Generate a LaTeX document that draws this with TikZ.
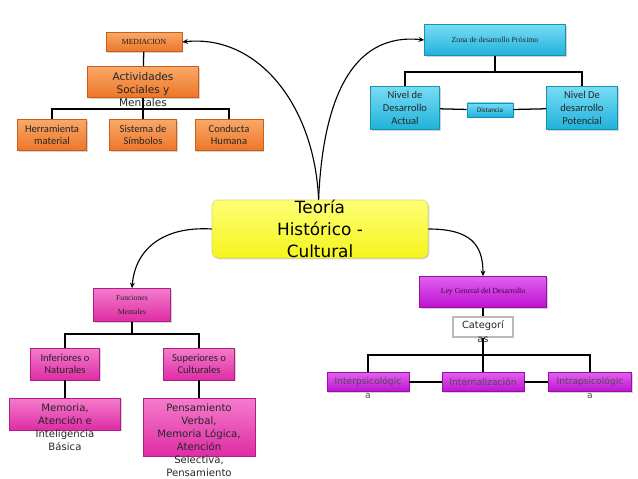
\documentclass[tikz,border=0pt]{standalone}
\usepackage{fontspec}
\setmainfont{Carlito}
\newfontfamily\dvfont{DejaVu Sans}
\newfontfamily\serfont{Liberation Serif}
\usetikzlibrary{arrows.meta,shadows}

\definecolor{naranjaA}{HTML}{F9A868}
\definecolor{naranjaB}{HTML}{EC7628}
\definecolor{naranjaC}{HTML}{C85E1A}
\definecolor{celesteA}{HTML}{78DCF4}
\definecolor{celesteB}{HTML}{1FB2DA}
\definecolor{celesteC}{HTML}{1690B4}
\definecolor{rosaA}{HTML}{F47CCC}
\definecolor{rosaB}{HTML}{DE2CA4}
\definecolor{rosaC}{HTML}{B01E82}
\definecolor{moradoA}{HTML}{E060EE}
\definecolor{moradoB}{HTML}{BE12D2}
\definecolor{moradoC}{HTML}{9A0CAA}
\definecolor{amarilloA}{HTML}{FFFF78}
\definecolor{amarilloB}{HTML}{F4F41C}
\definecolor{amarilloC}{HTML}{D8D850}

\newlength\pxu
\setlength\pxu{0.025cm}

\tikzset{
  caja/.style={rectangle, draw=#1C, line width=0.4pt, top color=#1A, bottom color=#1B,
    drop shadow={opacity=0.35, shadow xshift=0.9pt, shadow yshift=-0.9pt},
    inner sep=1pt, align=center, text=black!85},
  tam/.style 2 args={minimum width=#1*\pxu, minimum height=#2*\pxu},
  titulo/.style={font=\serfont\fontsize{5.5}{7}\selectfont},
  calib/.style={font=\fontsize{7.5}{9}\selectfont},
  sobre/.style={anchor=north, align=center, inner sep=2.5pt, yshift=-1.5pt, text=black!85},
  linea/.style={line width=0.9pt, black},
  flecha/.style={line width=0.8pt, black, -{Stealth[length=4pt,width=3.5pt]}}
}

\begin{document}
\begin{tikzpicture}[x=0.025cm, y=-0.025cm]
\useasboundingbox (0,0) rectangle (638,479);

% nodo central
\node[caja=amarillo, tam={216}{58}, rounded corners=4pt,
  label={[font=\dvfont\fontsize{12}{15.6}\selectfont, align=center]center:{Teoría\\Histórico -\\Cultural}}]
  (teoria) at (320,229) {};

% rama de la mediacion
\node[caja=naranja, tam={76}{19}, titulo, text=black!80!brown] (med) at (144,42) {MEDIACION};
\node[caja=naranja, tam={111}{31},
  label={[sobre, font=\dvfont\fontsize{7.5}{9.2}\selectfont]north:{Actividades\\Sociales y\\Mentales}}]
  (act) at (143,82) {};
\node[caja=naranja, tam={69}{31}, calib] (herr) at (52,135) {Herramienta\\material};
\node[caja=naranja, tam={67}{31}, calib] (sis) at (143,135) {Sistema de\\Símbolos};
\node[caja=naranja, tam={68}{31}, calib] (cond) at (229,135) {Conducta\\Humana};
\coordinate (barA) at (143,109);

% zona de desarrollo
\node[caja=celeste, tam={141}{31}, titulo] (zona) at (495,40) {Zona de desarrollo Próximo};
\node[caja=celeste, tam={69}{43}, calib] (nivA) at (405,108) {Nivel de\\Desarrollo\\Actual};
\node[caja=celeste, tam={46}{14}, font=\fontsize{5}{6}\selectfont] (dist) at (490,110) {Distancia};
\node[caja=celeste, tam={71}{43}, calib] (nivP) at (582,108) {Nivel De\\desarrollo\\Potencial};
\coordinate (barZ) at (495,72);

% funciones mentales
\node[caja=rosa, tam={77}{33}, font=\serfont\fontsize{5.5}{10}\selectfont] (func) at (132,305) {Funciones\\Mentales};
\node[caja=rosa, tam={69}{32}, calib] (inf) at (65,364) {Inferiores o\\Naturales};
\node[caja=rosa, tam={71}{32}, calib] (sup) at (199,364) {Superiores o\\Culturales};
\node[caja=rosa, tam={111}{32},
  label={[sobre, font=\dvfont\fontsize{7.2}{9.2}\selectfont]north:{Memoria,\\Atención e\\Inteligencia\\Básica}}]
  (mem) at (65,414) {};
\node[caja=rosa, tam={112}{58},
  label={[sobre, font=\dvfont\fontsize{7.2}{9.2}\selectfont]north:{Pensamiento\\Verbal,\\Memoria Lógica,\\Atención\\Selectiva,\\Pensamiento}}]
  (pens) at (199,427) {};
\coordinate (barF) at (132,334);

% ley general del desarrollo
\node[caja=morado, tam={127}{31}, titulo, text=moradoC!40!black] (ley) at (483,292) {Ley General del Desarrollo};
\node[draw=gray!55, line width=1.3pt, fill=white, tam={60}{20},
  label={[sobre, inner sep=1.5pt, font=\dvfont\fontsize{7}{10}\selectfont]north:{Categorí\\as}}]
  (cat) at (483,327) {};
\node[caja=morado, tam={82}{19},
  label={[sobre, inner sep=1.5pt, yshift=-0.5pt, font=\dvfont\fontsize{6.5}{10}\selectfont, text=black!70]north:{Interpsicológic\\a}}]
  (inter) at (368,382) {};
\node[caja=morado, tam={82}{19}, font=\dvfont\fontsize{6.5}{8}\selectfont, text=black!70] (intl) at (483,382) {Internalización};
\node[caja=morado, tam={83}{19},
  label={[sobre, inner sep=1.5pt, yshift=-0.5pt, font=\dvfont\fontsize{6.5}{10}\selectfont, text=black!70]north:{Intrapsicológic\\a}}]
  (intra) at (590,382) {};
\coordinate (barL) at (483,355);

% conectores
\draw[linea] (med) -- (act);
\draw[linea] (act) -- (sis);
\draw[linea] (herr.north) |- (barA) -| (cond.north);

\draw[linea] (zona.south) -- (barZ);
\draw[linea] (nivA.north) |- (barZ) -| (nivP.north);
\draw[linea] (nivA) -- (dist);
\draw[linea] (dist) -- (nivP);

\draw[linea] (func.south) -- (barF);
\draw[linea] (inf.north) |- (barF) -| (sup.north);
\draw[linea] (inf) -- (mem);
\draw[linea] (sup) -- (pens);

\draw[linea] (ley) -- (cat);
\draw[linea] (cat.south) -- (intl.north);
\draw[linea] (inter.north) |- (barL) -| (intra.north);
\draw[linea] (inter) -- (intl);
\draw[linea] (intl) -- (intra);

% flechas desde el nodo central
\draw[flecha] ([xshift=-1pt]teoria.north) .. controls +(-4,-95) and +(75,-8) .. (med.east);
\draw[flecha] ([xshift=-1pt]teoria.north) .. controls +(4,-95) and +(-75,-8) .. (zona.west);
\draw[flecha] (teoria.west) .. controls +(-50,-3) and +(3,-38) .. (func.north);
\draw[flecha] (teoria.east) .. controls +(42,0) and +(0,-32) .. (ley.north);
\end{tikzpicture}
\end{document}
